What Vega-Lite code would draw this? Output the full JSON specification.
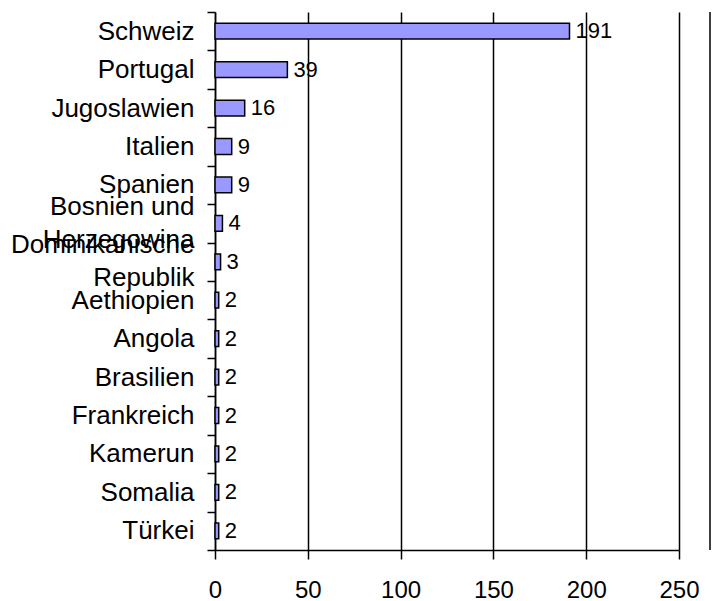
{
  "$schema": "https://vega.github.io/schema/vega-lite/v6.json",
  "autosize": {"type": "none"},
  "padding": {"left": 215, "top": 12, "right": 38, "bottom": 51},
  "width": 464,
  "height": 538,
  "background": "white",
  "config": {
    "view": {"stroke": null},
    "font": "Liberation Sans"
  },
  "data": {
    "values": [
      {"land": "Schweiz", "anzahl": 191},
      {"land": "Portugal", "anzahl": 39},
      {"land": "Jugoslawien", "anzahl": 16},
      {"land": "Italien", "anzahl": 9},
      {"land": "Spanien", "anzahl": 9},
      {"land": "Bosnien und Herzegowina", "anzahl": 4},
      {"land": "Dominikanische Republik", "anzahl": 3},
      {"land": "Aethiopien", "anzahl": 2},
      {"land": "Angola", "anzahl": 2},
      {"land": "Brasilien", "anzahl": 2},
      {"land": "Frankreich", "anzahl": 2},
      {"land": "Kamerun", "anzahl": 2},
      {"land": "Somalia", "anzahl": 2},
      {"land": "Türkei", "anzahl": 2}
    ]
  },
  "layer": [
    {
      "mark": {"type": "bar", "fill": "#9999FF", "stroke": "black", "strokeWidth": 1.5, "height": {"band": 0.41}},
      "encoding": {
        "y": {
          "field": "land",
          "type": "nominal",
          "sort": null,
          "scale": {"paddingInner": 0, "paddingOuter": 0},
          "axis": {
            "title": null,
            "domainColor": "black",
            "domainWidth": 1.5,
            "tickColor": "black",
            "tickWidth": 1.5,
            "tickSize": 8,
            "tickBand": "extent",
            "labelFont": "Liberation Sans",
            "labelFontSize": 26,
            "labelColor": "black",
            "labelPadding": 13,
            "labelLineHeight": 33,
            "labelOffset": {"condition": {"test": "datum.value == 'Bosnien und Herzegowina' || datum.value == 'Dominikanische Republik'", "value": -17}, "value": 0},
            "labelOverlap": false,
            "labelLimit": 0,
            "labelExpr": "datum.value == 'Bosnien und Herzegowina' ? ['Bosnien und', 'Herzegowina'] : (datum.value == 'Dominikanische Republik' ? ['Dominikanische', 'Republik'] : datum.value)"
          }
        },
        "x": {
          "field": "anzahl",
          "type": "quantitative",
          "scale": {"domain": [0, 250], "nice": false},
          "axis": {
            "title": null,
            "values": [0, 50, 100, 150, 200, 250],
            "grid": true,
            "gridColor": "black",
            "gridWidth": 1.5,
            "gridOpacity": 1,
            "domainColor": "black",
            "domainWidth": 1.5,
            "tickColor": "black",
            "tickWidth": 1.5,
            "tickSize": 9,
            "labelFont": "Liberation Sans",
            "labelFontSize": 24,
            "labelColor": "black",
            "labelPadding": 19,
            "labelFlush": false,
            "labelOverlap": false
          }
        }
      }
    },
    {
      "mark": {"type": "text", "align": "left", "baseline": "middle", "dx": 6, "fontSize": 22, "font": "Liberation Sans", "color": "black"},
      "encoding": {
        "y": {"field": "land", "type": "nominal", "sort": null},
        "x": {"field": "anzahl", "type": "quantitative"},
        "text": {"field": "anzahl", "type": "quantitative"}
      }
    },
    {
      "data": {"values": [{"rand": 266.7}]},
      "mark": {"type": "rule", "color": "black", "strokeWidth": 1.5},
      "encoding": {
        "x": {"field": "rand", "type": "quantitative"}
      }
    }
  ]
}
